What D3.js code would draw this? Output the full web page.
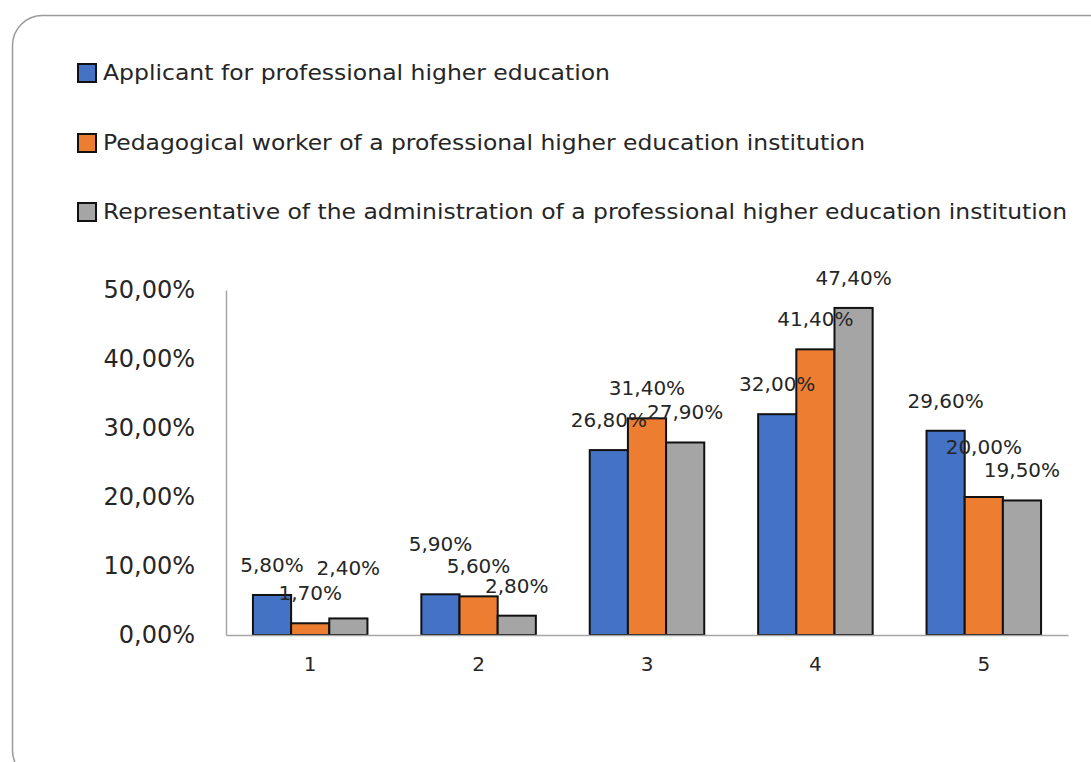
<!DOCTYPE html>
<html>
<head>
<meta charset="utf-8">
<script src="https://cdn.jsdelivr.net/npm/d3@7"></script>
<style>
  body { margin: 0; background: #fff; }
  text { font-family: "DejaVu Sans", sans-serif; fill: #262626; }
</style>
</head>
<body>
<script>
// chart data
var categories = ["1", "2", "3", "4", "5"];
var seriesNames = [
  "Applicant for professional higher education",
  "Pedagogical worker of a professional higher education institution",
  "Representative of the administration of a professional higher education institution"
];
var applicant = [0.058, 0.059, 0.268, 0.320, 0.296];
var pedagogical = [0.017, 0.056, 0.314, 0.414, 0.200];
var administration = [0.024, 0.028, 0.279, 0.474, 0.195];
var yTicks = [0, 0.1, 0.2, 0.3, 0.4, 0.5];

// labels that were dragged up in the original (per series, per category)
var labelRaised = [
  [false, true, false, false, false],
  [false, false, false, false, true],
  [true, false, false, false, false]
];

var colors = ["#4472C4", "#ED7D31", "#A5A5A5"];
var seriesValues = [applicant, pedagogical, administration];

var width = 1091, height = 762;
var plot = {left: 226, right: 1068, top: 290, bottom: 635};

var svg = d3.select("body")
            .append("svg")
            .attr("width", width)
            .attr("height", height);

// outer rounded frame
svg.append("rect")
   .attr("x", 12.5)
   .attr("y", 15.5)
   .attr("width", 1110)
   .attr("height", 765)
   .attr("rx", 30)
   .attr("fill", "none")
   .attr("stroke", "#9a9a9a")
   .attr("stroke-width", 1.5);

// legend
var legend = svg.append("g").attr("class", "legend");
var legendY = [73, 143, 212];
var legendEnd = [610, 865, 1067];
seriesNames.forEach(function(name, i) {
  legend.append("rect")
        .attr("x", 78)
        .attr("y", legendY[i] - 9)
        .attr("width", 18)
        .attr("height", 18)
        .attr("fill", colors[i])
        .attr("stroke", "#111")
        .attr("stroke-width", 2);
  legend.append("text")
        .attr("x", 103)
        .attr("y", legendY[i])
        .attr("dy", "0.35em")
        .attr("font-size", 21)
        .attr("textLength", legendEnd[i] - 103)
        .attr("lengthAdjust", "spacingAndGlyphs")
        .text(name);
});

var x0 = d3.scaleBand()
           .domain(categories)
           .range([plot.left, plot.right])
           .paddingInner(0.32)
           .paddingOuter(0.16);

var x1 = d3.scaleBand()
           .domain(d3.range(seriesNames.length))
           .range([0, x0.bandwidth()]);

var y = d3.scaleLinear()
          .domain([0, 0.5])
          .range([plot.bottom, plot.top]);

var pct = function(v) { return d3.format(".2f")(v * 100).replace(".", ",") + "%"; };

// y axis labels
var yAxis = d3.axisLeft(y)
              .tickValues(yTicks)
              .tickSize(0)
              .tickPadding(31)
              .tickFormat(pct);

svg.append("g")
   .attr("class", "y-axis")
   .attr("transform", "translate(" + plot.left + ",0)")
   .call(yAxis)
   .call(function(g) {
     g.select(".domain").attr("stroke", "#a6a6a6").attr("stroke-width", 1.5);
     g.selectAll("text").attr("font-size", 24).attr("fill", "#262626")
      .attr("font-family", "DejaVu Sans, sans-serif");
   });

// bars
var groups = svg.selectAll(".group")
                .data(categories)
                .enter()
                .append("g")
                .attr("class", "group")
                .attr("transform", function(d) { return "translate(" + x0(d) + ",0)"; });

groups.selectAll("rect")
      .data(function(d, ci) {
        return seriesValues.map(function(vals, si) { return {si: si, ci: ci, v: vals[ci]}; });
      })
      .enter()
      .append("rect")
      .attr("x", function(d) { return x1(d.si); })
      .attr("y", function(d) { return y(d.v); })
      .attr("width", x1.bandwidth())
      .attr("height", function(d) { return y(0) - y(d.v); })
      .attr("fill", function(d) { return colors[d.si]; })
      .attr("stroke", "#111")
      .attr("stroke-width", 2);

// x axis
var xAxis = d3.axisBottom(x0).tickSize(0).tickPadding(22);
svg.append("g")
   .attr("class", "x-axis")
   .attr("transform", "translate(0," + plot.bottom + ")")
   .call(xAxis)
   .call(function(g) {
     g.select(".domain").attr("stroke", "#a6a6a6").attr("stroke-width", 1.5);
     g.selectAll("text").attr("font-size", 20).attr("fill", "#262626")
      .attr("font-family", "DejaVu Sans, sans-serif");
   });

// data labels
groups.selectAll(".label")
      .data(function(d, ci) {
        return seriesValues.map(function(vals, si) { return {si: si, ci: ci, v: vals[ci]}; });
      })
      .enter()
      .append("text")
      .attr("class", "label")
      .attr("x", function(d) { return x1(d.si) + x1.bandwidth() / 2; })
      .attr("y", function(d) { return y(d.v) - (labelRaised[d.si][d.ci] ? 50 : 30); })
      .attr("dy", "0.35em")
      .attr("text-anchor", "middle")
      .attr("font-size", 20)
      .text(function(d) { return pct(d.v); });
</script>
</body>
</html>
